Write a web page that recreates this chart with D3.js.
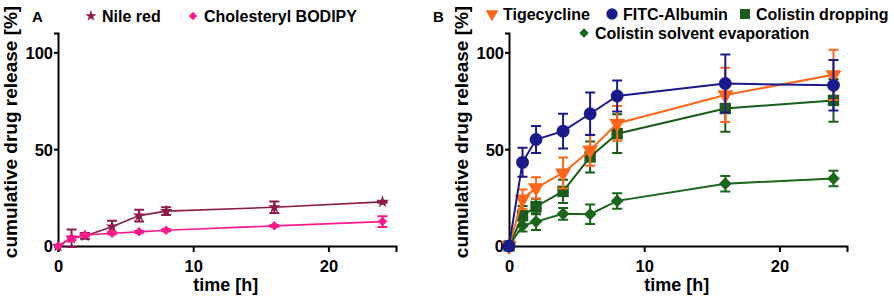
<!DOCTYPE html>
<html>
<head>
<meta charset="utf-8">
<script src="https://cdn.jsdelivr.net/npm/d3@7"></script>
<style>
    body { margin: 0; background: #fff; }
    text { font-family: "Liberation Sans", Arial, sans-serif; font-weight: bold; }
    .axis path, .axis line { stroke: #000; stroke-width: 2px; }
    .axis text { font-size: 16.5px; fill: #000; }
</style>
</head>
<body>
<script>

    var times = [0, 1, 2, 4, 6, 8, 16, 24];
    var xTicks = [0, 10, 20];
    var yTicks = [0, 50, 100];

    // panel A
    var nileRed = [0, 4, 5.2, 10, 15.7, 18, 20, 22.8];
    var nileRedErr = [0, 4.5, 1.5, 3, 3, 2, 3, 0.5];
    var bodipy = [0, 4, 5.7, 6.6, 7.3, 8.1, 10.4, 12.6];
    var bodipyErr = [0, 1, 0.5, 0.5, 0.5, 0.5, 0.5, 2.8];

    // panel B
    var tigecycline = [0, 24.2, 30, 37.7, 49.5, 63.3, 78, 88.4];
    var tigecyclineErr = [0, 5, 5.5, 8, 8, 9, 14, 13];
    var fitcAlbumin = [0, 43.2, 55, 59.3, 68.3, 77.5, 83.9, 83];
    var fitcAlbuminErr = [0, 7.5, 7, 9, 11, 8, 15, 13];
    var colistinDrop = [0, 15.6, 20.4, 28.2, 46, 58, 71, 75.2];
    var colistinDropErr = [0, 5, 4, 6, 8, 10, 12, 11];
    var colistinEvap = [0, 10.5, 12.6, 16.6, 16.4, 23.3, 32.2, 34.8];
    var colistinEvapErr = [0, 3, 4.3, 3, 5, 4, 4, 4];

    var width = 894, height = 298;

    var svg = d3.select("body").append("svg")
        .attr("width", width)
        .attr("height", height);

    function symbolPath(type, size) {
        var map = {
            star: d3.symbolStar,
            diamond: d3.symbolSquare,
            circle: d3.symbolCircle,
            square: d3.symbolSquare,
            triangle: d3.symbolTriangle
        };
        return d3.symbol().type(map[type]).size(size)();
    }

    function symbolRotate(type) {
        if (type == "diamond") return " rotate(45)";
        if (type == "triangle") return " rotate(180)";
        return "";
    }

    function panel(left, series, letter, letterX, lineWidth) {
        var x = d3.scaleLinear().domain([0, 25]).range([left, left + 338]);
        var y = d3.scaleLinear().domain([0, 110]).range([246, 33]);

        var g = svg.append("g");

        g.append("g")
            .attr("class", "axis")
            .attr("transform", "translate(0,246)")
            .call(d3.axisBottom(x).tickValues(xTicks).tickSizeOuter(0).tickSize(6).tickPadding(4))
            .selectAll("text").attr("dy", "0.95em");

        g.append("g")
            .attr("class", "axis")
            .attr("transform", "translate(" + left + ",0)")
            .call(d3.axisLeft(y).tickValues(yTicks).tickSizeOuter(0).tickSize(4).tickPadding(1))
            .selectAll("text").attr("dy", "0.36em");

        g.append("text")
            .attr("x", x(12.4))
            .attr("y", 291)
            .attr("text-anchor", "middle")
            .style("font-size", "18px")
            .text("time [h]");

        g.append("text")
            .attr("transform", "translate(" + (left - 41) + ",132) rotate(-90)")
            .attr("text-anchor", "middle")
            .style("font-size", "19px")
            .text("cumulative drug release [%]");

        g.append("text")
            .attr("x", letterX)
            .attr("y", 22)
            .style("font-size", "15px")
            .text(letter);

        series.forEach(function (s) {
            var sg = g.append("g");
            var line = d3.line()
                .x(function (d, i) { return x(times[i]); })
                .y(function (d) { return y(d); });

            s.values.forEach(function (v, i) {
                var e = s.err[i];
                if (!e) return;
                var cx = x(times[i]);
                sg.append("path")
                    .attr("d", "M" + cx + "," + y(v - e) + "V" + y(v + e)
                        + "M" + (cx - 5) + "," + y(v - e) + "H" + (cx + 5)
                        + "M" + (cx - 5) + "," + y(v + e) + "H" + (cx + 5))
                    .attr("fill", "none")
                    .attr("stroke", s.color)
                    .attr("stroke-width", 2);
            });

            sg.append("path")
                .datum(s.values)
                .attr("d", line)
                .attr("fill", "none")
                .attr("stroke", s.color)
                .attr("stroke-width", lineWidth);

            sg.selectAll("path.mark")
                .data(s.values)
                .enter()
                .append("path")
                .attr("class", "mark")
                .attr("d", symbolPath(s.symbol, s.size))
                .attr("transform", function (d, i) {
                    return "translate(" + x(times[i]) + "," + y(d) + ")" + symbolRotate(s.symbol);
                })
                .attr("fill", s.color);
        });
    }

    function legendItem(cx, cy, s, label) {
        svg.append("path")
            .attr("d", symbolPath(s.symbol, s.legendSize))
            .attr("transform", "translate(" + cx + "," + cy + ")" + symbolRotate(s.symbol))
            .attr("fill", s.color);
        svg.append("text")
            .attr("x", cx + 11)
            .attr("y", cy + 6)
            .style("font-size", "16px")
            .text(label);
    }

    var seriesA = [
        {name: "Nile red", values: nileRed, err: nileRedErr, color: "#8c1a4b", symbol: "star", size: 50, legendSize: 40},
        {name: "Cholesteryl BODIPY", values: bodipy, err: bodipyErr, color: "#ff1a8c", symbol: "diamond", size: 45, legendSize: 35}
    ];

    var seriesB = [
        {name: "Colistin solvent evaporation", values: colistinEvap, err: colistinEvapErr, color: "#1a661a", symbol: "diamond", size: 80, legendSize: 45},
        {name: "Colistin dropping", values: colistinDrop, err: colistinDropErr, color: "#1a5c1a", symbol: "square", size: 130, legendSize: 100},
        {name: "Tigecycline", values: tigecycline, err: tigecyclineErr, color: "#ff661a", symbol: "triangle", size: 110, legendSize: 70},
        {name: "FITC-Albumin", values: fitcAlbumin, err: fitcAlbuminErr, color: "#1a1a8c", symbol: "circle", size: 130, legendSize: 100}
    ];

    panel(58, seriesA, "A", 32, 1.6);
    panel(509, seriesB, "B", 433, 2);

    legendItem(91, 16, seriesA[0], seriesA[0].name);
    legendItem(193, 16, seriesA[1], seriesA[1].name);

    legendItem(492, 14, seriesB[2], seriesB[2].name);
    legendItem(612, 14, seriesB[3], seriesB[3].name);
    legendItem(745, 14, seriesB[1], seriesB[1].name);
    legendItem(584, 33, seriesB[0], seriesB[0].name);

</script>
</body>
</html>
